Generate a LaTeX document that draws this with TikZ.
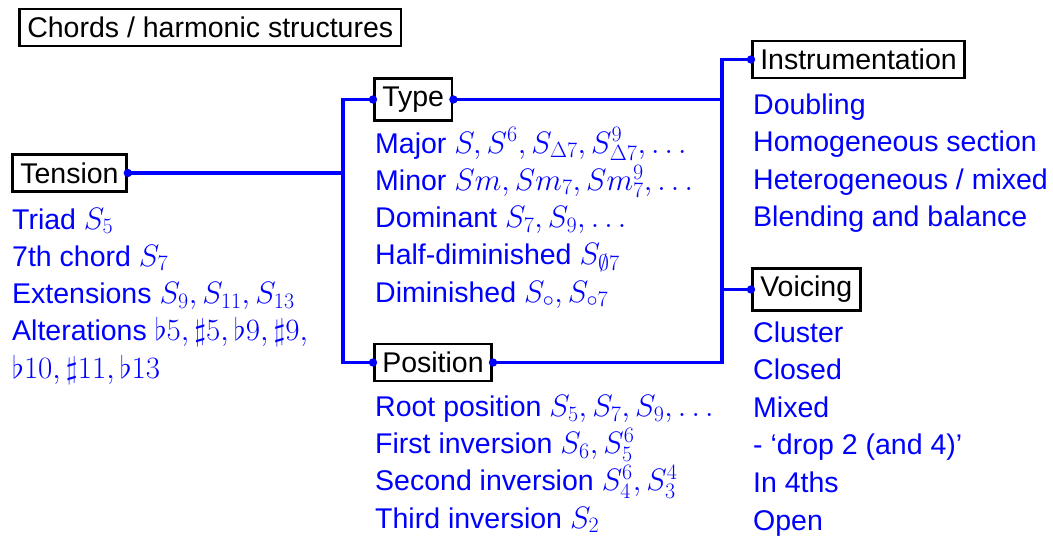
\RequirePackage{fix-cm}
\documentclass[tikz,border=0pt]{standalone}
\usepackage{fontspec}
\setmainfont{Liberation Sans}
\DeclareMathSizes{28.5}{31}{22}{16}
\definecolor{linkblue}{RGB}{0,0,255}
\tikzset{
  lbl/.style={draw=black, line width=2.6pt, inner xsep=8pt, inner ysep=8pt, font=\fontsize{28.5}{37}\selectfont, text=black},
  item/.style={anchor=base west, inner sep=0pt, text=linkblue, font=\fontsize{28.5}{37}\selectfont},
  conn/.style={draw=linkblue, line width=3.2pt},
  dot/.style={fill=linkblue},
}
\begin{document}
\begin{tikzpicture}[x=1pt,y=-1pt]
\useasboundingbox (0,0) rectangle (1053,538);
% boxes
\node[lbl, anchor=west] (title) at (18,27.5) {Chords / harmonic structures};
\node[lbl, anchor=west] (tension) at (11,173) {Tension};
\node[lbl, anchor=west] (type) at (373,99.5) {Type};
\node[lbl, anchor=west] (position) at (373,362.5) {Position};
\node[lbl, anchor=west] (instr) at (751,59.5) {Instrumentation};
\node[lbl, anchor=west] (voicing) at (751,289.5) {Voicing};
% spines
\coordinate (jl) at (343,0);
\coordinate (jr) at (722,0);
\draw[conn] (tension.east) -- (tension.east -| jl);
\draw[conn] (type.west) -- (type.west -| jl) -- (position.west -| jl) -- (position.west);
\draw[conn] (type.east) -- (type.east -| jr);
\draw[conn] (instr.west) -- (instr.west -| jr) -- (position.east -| jr) -- (position.east);
\draw[conn] (voicing.west) -- (voicing.west -| jr);
\foreach \p in {tension.east, type.west, type.east, position.west, position.east, instr.west, voicing.west}
  \fill[dot] (\p) circle (4.2pt);
% lists
\foreach \t [count=\i] in {{Triad $S_5$},{7th chord $S_7$},{Extensions $S_9, S_{11}, S_{13}$},{Alterations $\flat5, \sharp5, \flat9, \sharp9,$},{$\flat10, \sharp11, \flat13$}}
  \node[item] (ten\i) at (12, 229+37.3*\i-37.3) {\t};
\foreach \t [count=\i] in {{Major $S, S^6, S_{\Delta7}, S^9_{\Delta7}, \ldots$},{Minor $Sm, Sm_7, Sm^9_7, \ldots$},{Dominant $S_7, S_9, \ldots$},{Half-diminished $S_{\emptyset7}$},{Diminished $S_\circ, S_{\circ7}$}}
  \node[item] (typ\i) at (375, 153+37.3*\i-37.3) {\t};
\foreach \t [count=\i] in {{Root position $S_5, S_7, S_9, \ldots$},{First inversion $S_6, S^6_5$},{Second inversion $S^6_4, S^4_3$},{Third inversion $S_2$}}
  \node[item] (pos\i) at (375, 416.5+37.2*\i-37.2) {\t};
\foreach \t [count=\i] in {{Doubling},{Homogeneous section},{Heterogeneous / mixed},{Blending and balance}}
  \node[item] (ins\i) at (753, 114+37.6*\i-37.6) {\t};
\foreach \t [count=\i] in {{Cluster},{Closed},{Mixed},{- ‘drop 2 (and 4)’},{In 4ths},{Open}}
  \node[item] (voi\i) at (753, 342+37.6*\i-37.6) {\t};
\end{tikzpicture}
\end{document}
